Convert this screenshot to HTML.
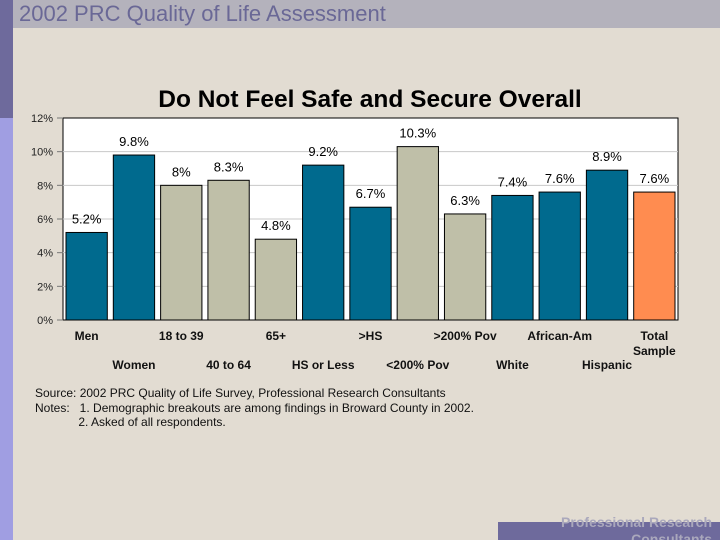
<!DOCTYPE html>
<html><head><meta charset="utf-8"><style>
html,body{margin:0;width:720px;height:540px;overflow:hidden}
body{background:#e2dcd2;font-family:"Liberation Sans",sans-serif;position:relative}
.abs{position:absolute}
</style></head><body>
<div class="abs" style="left:0;top:0;width:720px;height:28px;background:#b4b2bc"></div>
<div class="abs" style="left:19px;top:1px;font-size:22px;color:#6a6896;white-space:nowrap">2002 PRC Quality of Life Assessment</div>
<div class="abs" style="left:0;top:0;width:13px;height:118px;background:#6e6a9c"></div>
<div class="abs" style="left:0;top:118px;width:13px;height:422px;background:#a09ee2"></div>
<div class="abs" style="left:498px;top:522px;width:222px;height:18px;background:#6e6a9c"></div>
<div class="abs" style="left:500px;top:514px;width:212px;height:26px;overflow:hidden;text-align:right;font-size:14px;font-weight:bold;color:#aaa8bc;line-height:17px">Professional Research<br>Consultants</div>
<div class="abs" style="left:0;width:740px;top:86px;text-align:center;font-size:24.5px;font-weight:bold;color:#000">Do Not Feel Safe and Secure Overall</div>
<svg class="abs" style="left:0;top:0" width="720" height="540" id="chart"></svg>
<div class="abs" style="left:35px;top:386px;font-size:12px;line-height:14.5px;color:#111;white-space:pre">Source: 2002 PRC Quality of Life Survey, Professional Research Consultants
Notes:   1. Demographic breakouts are among findings in Broward County in 2002.
             2. Asked of all respondents.</div>
<script>
const categories=["Men","Women","18 to 39","40 to 64","65+","HS or Less",">HS","<200% Pov",">200% Pov","White","African-Am","Hispanic","Total Sample"];
const values=[5.2,9.8,8,8.3,4.8,9.2,6.7,10.3,6.3,7.4,7.6,8.9,7.6];
const labels=["5.2%","9.8%","8%","8.3%","4.8%","9.2%","6.7%","10.3%","6.3%","7.4%","7.6%","8.9%","7.6%"];
const groups=["t","t","g","g","g","t","t","g","g","t","t","t","o"];
const ticks=[0,2,4,6,8,10,12];
const NS="http://www.w3.org/2000/svg",svg=document.getElementById('chart');
const X0=63,X1=678,Y0=320,Y1=118,YMAX=12;
const y=v=>Y0-(v/YMAX)*(Y0-Y1);
const slot=(X1-X0)/categories.length;
const x=i=>X0+i*slot;
const colors={t:"#006a8e",g:"#bfbfa8",o:"#ff8c50"};
function mk(t,a){const e=document.createElementNS(NS,t);for(const k in a)e.setAttribute(k,a[k]);svg.appendChild(e);return e;}
const bg=mk('rect',{x:X0,y:Y1,width:X1-X0,height:Y0-Y1,fill:"#fff",stroke:"#000","stroke-width":1});


ticks.forEach(t=>{
 if(t>0&&t<YMAX){const g=mk('line',{x1:X0,x2:X1,y1:y(t),y2:y(t),stroke:"#c8c8c8","stroke-width":1});
 
 }
 const tk=mk('line',{x1:X0-6,x2:X0,y1:y(t),y2:y(t),stroke:"#777"});
 
 
 const tl=mk('text',{x:X0-10,y:y(t)+4,"text-anchor":"end","font-size":11,fill:"#222","font-family":"Liberation Sans"});
 tl.textContent=t+"%";
 
 
});
values.forEach((v,i)=>{
 const bx=x(i)+3,bw=slot-6;
 const r=mk('rect',{x:bx,y:y(v),width:bw,height:Y0-y(v),fill:colors[groups[i]],stroke:"#000","stroke-width":1});
 
 
 const t=mk('text',{x:bx+bw/2,y:y(v)-9,"text-anchor":"middle","font-size":13,fill:"#000","font-family":"Liberation Sans"});
 t.textContent=labels[i];
 
 
 const cx=bx+bw/2,row=i%2===0?340:369;
 const parts=categories[i]==="Total Sample"?["Total","Sample"]:[categories[i]];
 parts.forEach((p,k)=>{
  const c=mk('text',{x:cx,y:row+k*15,"text-anchor":"middle","font-size":12,"font-weight":"bold",fill:"#111","font-family":"Liberation Sans"});
  c.textContent=p;
  
  
 });
});
</script>
</body></html>
